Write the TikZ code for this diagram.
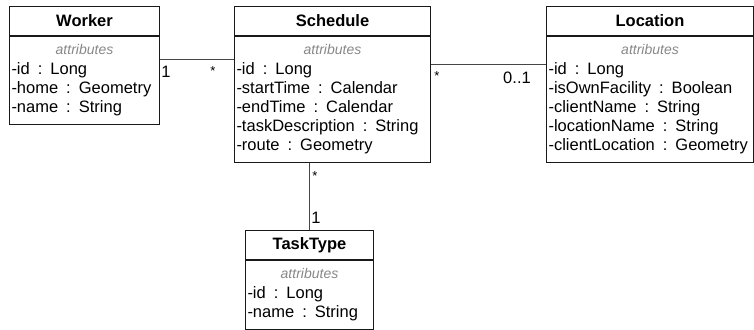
\documentclass[tikz,border=0pt]{standalone}
\usepackage{fontspec}
\setmainfont{Liberation Sans}
\usetikzlibrary{positioning}
\definecolor{boxline}{RGB}{25,25,25}
\definecolor{linkline}{RGB}{70,70,70}
\definecolor{attrgray}{RGB}{135,135,135}
\frenchspacing
\newcommand{\attrline}{\spaceskip=8pt\relax\makebox[\hsize]{\fontsize{14}{19}\selectfont\itshape\color{attrgray}attributes}\\[1pt]}
\tikzset{
  head/.style={draw=boxline, line width=1pt, minimum height=29, inner sep=0pt,
    anchor=north west, font=\fontsize{16.5}{19}\selectfont\bfseries},
  body/.style={draw=boxline, line width=1pt, text width=#1, align=left,
    inner xsep=2pt, inner ysep=8pt, font=\fontsize{16.5}{19}\selectfont},
  link/.style={draw=linkline, line width=0.8pt},
  mult/.style={inner sep=0pt, font=\fontsize{16.5}{19}\selectfont},
  many/.style={inner sep=0pt, font=\fontsize{13}{13}\selectfont}
}
\begin{document}
\begin{tikzpicture}[x=1pt,y=1pt]
  \useasboundingbox (0,0) rectangle (754,-329);
  \node[head, minimum width=150] (workerhead) at (9,-6) {Worker};
  \node[body=146, below=0pt of workerhead] (worker)
    {\attrline -id : Long\\-home : Geometry\\-name : String};
  \node[head, minimum width=196] (schedulehead) at (234,-6) {Schedule};
  \node[body=192, below=0pt of schedulehead] (schedule)
    {\attrline -id : Long\\-startTime : Calendar\\-endTime : Calendar\\-taskDescription : String\\-route : Geometry};
  \node[head, minimum width=207] (locationhead) at (546,-6) {Location};
  \node[body=203, below=0pt of locationhead] (location)
    {\attrline -id : Long\\-isOwnFacility : Boolean\\-clientName : String\\-locationName : String\\-clientLocation : Geometry};
  \node[head, minimum width=128] (tasktypehead) at (245,-230) {TaskType};
  \node[body=124, below=0pt of tasktypehead] (tasktype)
    {\attrline -id : Long\\-name : String};
  \begin{scope}[link]
    \draw ([yshift=-23]worker.north east) -- ([yshift=-23]schedule.north west);
    \draw ([yshift=-28]schedule.north east) -- ([yshift=-28]location.north west);
    \draw (tasktypehead.north) -- (tasktypehead.north |- schedule.south);
  \end{scope}
  \node[mult] (workerone) at (166,-72) {1};
  \node[many] (workermany) at (213,-71) {*};
  \node[many] (locationmany) at (437,-76) {*};
  \node[mult] (locationone) at (517,-78) {0..1};
  \node[many] (tasktypemany) at (315,-176) {*};
  \node[mult] (tasktypeone) at (316,-218) {1};
\end{tikzpicture}
\end{document}
